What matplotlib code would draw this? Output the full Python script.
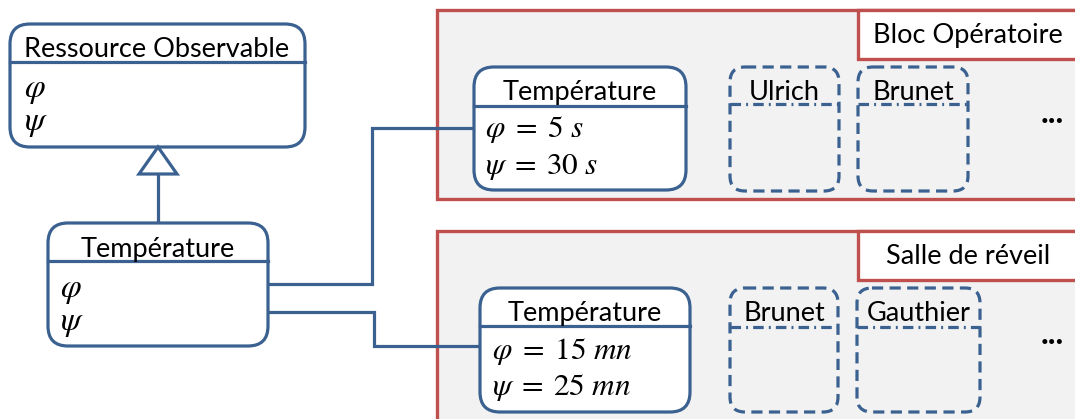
import matplotlib.pyplot as plt
from matplotlib.patches import FancyBboxPatch, Rectangle, Polygon

# contenu du schéma
classe_mere = "Ressource Observable"
classe_fille = "Température"
params = [r"\varphi", r"\psi"]
salles = ["Bloc Opératoire", "Salle de réveil"]
phi_vals = [5, 15]
psi_vals = [30, 25]
unites = ["s", "mn"]
personnels = [["Ulrich", "Brunet"], ["Brunet", "Gauthier"]]

BLEU = "#3b6191"
ROUGE = "#c0504d"
GRIS = "#f2f2f2"
POLICE = "Lato"
TAILLE = 19.5
TAILLE_MATH = 22.5

plt.rcParams["mathtext.fontset"] = "stix"

fig = plt.figure(figsize=(10.75, 4.19), dpi=100)
ax = fig.add_axes([0, 0, 1, 1])
ax.set_xlim(0, 1075)
ax.set_ylim(419, 0)
ax.axis("off")


def boite(x0, y0, x1, y1, ligne_y, r=20, style="-", fond="white", lw=2.3, z=3):
    ax.add_patch(FancyBboxPatch((x0, y0), x1 - x0, y1 - y0,
                                boxstyle=f"round,pad=0,rounding_size={r}",
                                fc=fond, ec=BLEU, lw=lw, ls=style, zorder=z))
    ls_div = "-" if style == "-" else (0, (3.3, 1.6, 0.6, 1.6))
    ax.plot([x0, x1], [ligne_y, ligne_y], color=BLEU, lw=lw, ls=ls_div, zorder=z + 1)


def titre(x, y, s, size=TAILLE):
    ax.text(x, y, s, ha="center", va="baseline", fontsize=size,
            family=POLICE, color="black", zorder=6)


def math(x, y, s, size=TAILLE_MATH):
    ax.text(x, y, "$" + s + "$", ha="left", va="baseline",
            fontsize=size, color="black", zorder=6)


# classe abstraite
boite(10, 24, 305, 147, 62)
titre(157, 57, classe_mere)
math(24, 97, params[0], 24)
math(24, 130, params[1], 24)

# héritage
ax.plot([158, 158], [174, 223], color=BLEU, lw=2.3, zorder=2)
ax.add_patch(Polygon([(158, 147), (139, 174), (177, 174)], closed=True,
                     fc="white", ec=BLEU, lw=2.3, zorder=4))

# classe fille
boite(48, 223, 268, 346, 261)
titre(158, 257, classe_fille)
math(60, 297, params[0], 24)
math(60, 330, params[1], 24)

# panneaux des salles
panneaux = [
    dict(y0=10, y1=199, temp=(474, 67, 686, 190, 106), base=100,
         l1=137, l2=174, tx=485, lab=(10, 59, 43), conn=(284, 372, 128),
         pers=[(730, 839), (858, 968)], py=(67, 191, 104)),
    dict(y0=231, y1=430, temp=(480, 288, 690, 412, 326), base=321,
         l1=359, l2=395, tx=492, lab=(231, 280, 264), conn=(312, 374, 346),
         pers=[(730, 838), (857, 980)], py=(288, 412, 327)),
]

for i, p in enumerate(panneaux):
    ax.add_patch(Rectangle((437, p["y0"]), 700, p["y1"] - p["y0"],
                           fc=GRIS, ec=ROUGE, lw=2.4, zorder=1))
    ly0, ly1, lb = p["lab"]
    ax.add_patch(Rectangle((858, ly0), 300, ly1 - ly0,
                           fc="white", ec=ROUGE, lw=2.4, zorder=2))
    titre(968, lb, salles[i])

    x0, y0, x1, y1, dv = p["temp"]
    boite(x0, y0, x1, y1, dv)
    titre((x0 + x1) / 2, p["base"], classe_fille)
    u = unites[i]
    math(p["tx"], p["l1"], rf"\varphi\;=\;{phi_vals[i]}\ {u}")
    math(p["tx"], p["l2"], rf"\psi\;=\;{psi_vals[i]}\ {u}")

    py0, py1, pdv = p["py"]
    for (a, b), nom in zip(p["pers"], personnels[i]):
        boite(a, py0, b, py1, pdv, r=15, style=(0, (3.5, 2.0)), fond=GRIS)
        titre((a + b) / 2, p["base"], nom)

    ax.text(1052, (py0 + py1) / 2 - 16, "...", ha="center", va="center",
            fontsize=24, fontweight="bold", family=POLICE, zorder=6)

    # liens vers la classe fille
    yd, xc, ya = p["conn"]
    ax.plot([268, xc, xc, x0], [yd, yd, ya, ya], color=BLEU, lw=2.3,
            solid_joinstyle="miter", zorder=2)

fig.savefig("out.png", dpi=100)
